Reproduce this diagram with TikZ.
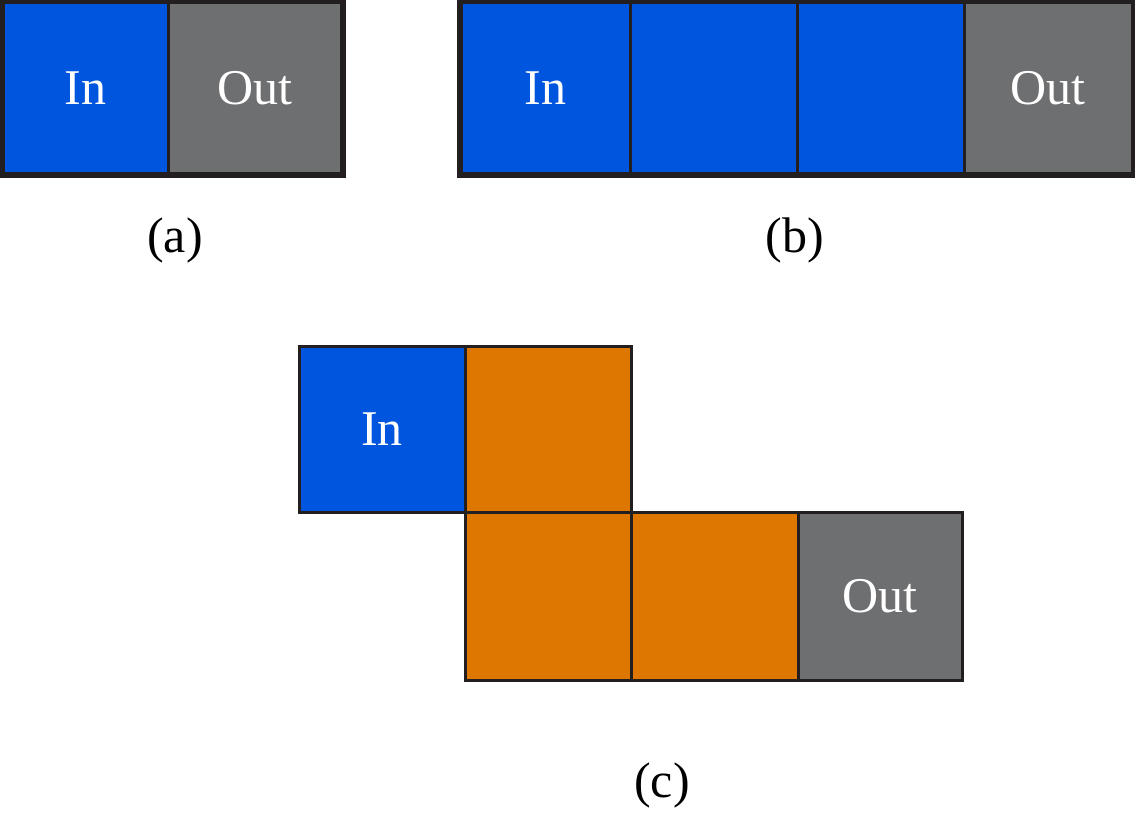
\documentclass[tikz,border=0pt]{standalone}
\usepackage{fontspec}
\setmainfont{Liberation Serif}
\definecolor{inblue}{HTML}{0055DE}
\definecolor{outgrey}{HTML}{6E6F71}
\definecolor{midorange}{HTML}{DD7700}
\definecolor{edgegrey}{HTML}{231F20}
\begin{document}
\begin{tikzpicture}[x=1pt,y=-1pt,
    cell/.style={draw=edgegrey,line width=3pt,inner sep=0pt,text=white,font=\fontsize{50}{50}\selectfont},
    caption/.style={font=\fontsize{50}{50}\selectfont}]
  \useasboundingbox (0,0) rectangle (1135,816);
  % (a)
  \node[cell,fill=inblue,minimum width=165,minimum height=170] (ain) at (85.5,88) {In};
  \node[cell,fill=outgrey,minimum width=173,minimum height=170] (aout) at (254.5,88) {Out};
  \draw[edgegrey,line width=6pt] (ain.north west) rectangle (aout.south east);
  \node[caption] (capa) at (175,240) {(a)};
  % (b)
  \node[cell,fill=inblue,minimum width=169,minimum height=170] (bin) at (545.5,88) {In};
  \node[cell,fill=inblue,minimum width=167,minimum height=170] (bmid1) at (713.5,88) {};
  \node[cell,fill=inblue,minimum width=167,minimum height=170] (bmid2) at (880.5,88) {};
  \node[cell,fill=outgrey,minimum width=168,minimum height=170] (bout) at (1048,88) {Out};
  \draw[edgegrey,line width=6pt] (bin.north west) rectangle (bout.south east);
  \node[caption] (capb) at (795,240) {(b)};
  % (c)
  \node[cell,fill=inblue,minimum width=166,minimum height=166] (cin) at (382,429) {In};
  \node[cell,fill=midorange,minimum width=166,minimum height=166] (cup) at (548,429) {};
  \node[cell,fill=midorange,minimum width=166,minimum height=168] (cdown) at (548,596) {};
  \node[cell,fill=midorange,minimum width=167,minimum height=168] (cright) at (714.5,596) {};
  \node[cell,fill=outgrey,minimum width=164,minimum height=168] (cout) at (880,596) {Out};
  \node[caption] (capc) at (662,785) {(c)};
\end{tikzpicture}
\end{document}
